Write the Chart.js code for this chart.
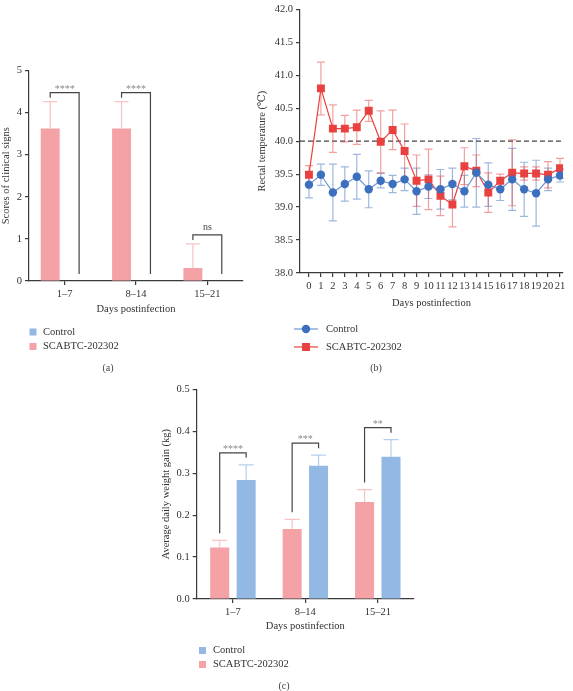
<!DOCTYPE html>
<html>
<head>
<meta charset="utf-8">
<script src="https://cdn.jsdelivr.net/npm/chart.js@4"></script>
<style>
    body { margin: 0; background: #fff; width: 573px; height: 691px; position: relative; overflow: hidden; }
    canvas { position: absolute; }
</style>
</head>
<body>
<canvas id="chartA" width="250" height="385" style="left:0;top:0"></canvas>
<canvas id="chartB" width="368" height="385" style="left:205px;top:0"></canvas>
<canvas id="chartC" width="300" height="311" style="left:150px;top:380px"></canvas>
<script>
// shared
const periods = ['1–7', '8–14', '15–21'];

// (a) scores of clinical signs
const scoreControl = [0, 0, 0];
const scoreControlSd = [0, 0, 0];
const scoreInfected = [3.62, 3.62, 0.31];
const scoreInfectedSd = [0.64, 0.64, 0.57];
const scoreMarks = ['****', '****', 'ns'];

// (b) rectal temperature
const days = [0, 1, 2, 3, 4, 5, 6, 7, 8, 9, 10, 11, 12, 13, 14, 15, 16, 17, 18, 19, 20, 21];
const tempControl = [39.34, 39.49, 39.22, 39.35, 39.46, 39.27, 39.40, 39.35, 39.42, 39.24, 39.31,
    39.27, 39.35, 39.24, 39.52, 39.34, 39.27, 39.42, 39.27, 39.21, 39.42, 39.48];
const tempControlSd = [0.20, 0.16, 0.43, 0.26, 0.34, 0.28, 0.11, 0.13, 0.17, 0.35, 0.18,
    0.30, 0.24, 0.24, 0.52, 0.33, 0.17, 0.47, 0.41, 0.50, 0.17, 0.10];
const tempInfected = [39.49, 40.80, 40.19, 40.19, 40.21, 40.46, 39.99, 40.17, 39.85, 39.40, 39.42,
    39.17, 39.04, 39.62, 39.55, 39.22, 39.40, 39.52, 39.51, 39.51, 39.49, 39.59];
const tempInfectedSd = [0.14, 0.40, 0.36, 0.20, 0.26, 0.16, 0.47, 0.30, 0.41, 0.39, 0.46,
    0.30, 0.34, 0.28, 0.24, 0.30, 0.10, 0.50, 0.10, 0.10, 0.20, 0.15];
const feverLine = 40.0;

// (c) average daily weight gain
const gainControl = [0.284, 0.318, 0.339];
const gainControlSd = [0.036, 0.025, 0.041];
const gainInfected = [0.123, 0.167, 0.231];
const gainInfectedSd = [0.017, 0.023, 0.030];
const gainMarks = ['****', '***', '**'];

const pinkFill = '#f4a2a5';
const pinkErr = '#f8c3c5';
const blueFill = '#93b8e3';
const blueErr = '#b6cfee';
const redLine = '#e8413f';
const redErr = 'rgba(232,65,63,0.5)';
const blueDot = '#3d6fbf';
const blueLine = '#6d96d6';
const blueErrLine = 'rgba(61,111,191,0.5)';
const axisColor = '#3a3a3a';
const textColor = '#333';
const serif = "'Liberation Serif', 'DejaVu Serif', serif";

Chart.defaults.font.family = serif;
Chart.defaults.font.size = 10.5;
Chart.defaults.color = textColor;

const extras = {
    id: 'extras',
    beforeDatasetsDraw(chart, args, opts) {
        const ctx = chart.ctx;
        const y = chart.scales.y;
        const area = chart.chartArea;
        if (opts.refLine !== undefined) {
            const yy = y.getPixelForValue(opts.refLine);
            ctx.save();
            ctx.strokeStyle = '#444';
            ctx.lineWidth = 1.2;
            ctx.setLineDash([5, 3]);
            ctx.beginPath();
            ctx.moveTo(area.left, yy);
            ctx.lineTo(area.right, yy);
            ctx.stroke();
            ctx.restore();
        }
        // error bars
        chart.data.datasets.forEach((ds, i) => {
            if (!ds.sd) return;
            const meta = chart.getDatasetMeta(i);
            ctx.save();
            ctx.strokeStyle = ds.errColor;
            ctx.lineWidth = 1.2;
            meta.data.forEach((el, j) => {
                const raw = ds.data[j];
                const val = typeof raw === 'object' ? raw.y : raw;
                const sd = ds.sd[j];
                if (!sd) return;
                const cap = opts.cap;
                const top = y.getPixelForValue(val + sd);
                const bottom = y.getPixelForValue(opts.bothWays ? val - sd : val);
                ctx.beginPath();
                ctx.moveTo(el.x, bottom);
                ctx.lineTo(el.x, top);
                ctx.moveTo(el.x - cap, top);
                ctx.lineTo(el.x + cap, top);
                if (opts.bothWays) {
                    ctx.moveTo(el.x - cap, bottom);
                    ctx.lineTo(el.x + cap, bottom);
                }
                ctx.stroke();
            });
            ctx.restore();
        });
    },
    afterDraw(chart, args, opts) {
        const ctx = chart.ctx;
        const y = chart.scales.y;
        ctx.save();
        if (opts.brackets) {
            const b = opts.brackets;
            const dsL = chart.data.datasets[0];
            const dsR = chart.data.datasets[1];
            const metaL = chart.getDatasetMeta(0);
            const metaR = chart.getDatasetMeta(1);
            b.marks.forEach((txt, j) => {
                const xL = metaL.data[j].x;
                const xR = metaR.data[j].x;
                const topL = y.getPixelForValue(dsL.data[j] + dsL.sd[j]);
                const topR = y.getPixelForValue(dsR.data[j] + dsR.sd[j]);
                const high = Math.min(topL, topR);
                const yB = high - b.rise;
                const legEnd = t => t === high ? yB + 5 : t - 7;
                ctx.strokeStyle = '#444';
                ctx.lineWidth = 1.2;
                ctx.beginPath();
                ctx.moveTo(xL, legEnd(topL));
                ctx.lineTo(xL, yB);
                ctx.lineTo(xR, yB);
                ctx.lineTo(xR, legEnd(topR));
                ctx.stroke();
                const stars = txt.startsWith('*');
                ctx.fillStyle = stars ? '#888' : '#444';
                ctx.font = `10px ${serif}`;
                ctx.textAlign = 'center';
                ctx.textBaseline = 'alphabetic';
                ctx.fillText(txt, (xL + xR) / 2, yB - (stars ? 1 : 4.5));
            });
        }
        if (opts.legend) {
            const lg = opts.legend;
            ctx.font = `10.5px ${serif}`;
            ctx.textBaseline = 'middle';
            ctx.textAlign = 'left';
            lg.items.forEach((item, k) => {
                const yy = lg.y + k * lg.rowGap;
                if (item.kind === 'box') {
                    ctx.fillStyle = item.color;
                    ctx.fillRect(lg.x, yy - 3.5, 7, 7);
                } else {
                    ctx.strokeStyle = item.line;
                    ctx.lineWidth = 1.2;
                    ctx.beginPath();
                    ctx.moveTo(lg.x, yy);
                    ctx.lineTo(lg.x + 24, yy);
                    ctx.stroke();
                    ctx.fillStyle = item.color;
                    ctx.beginPath();
                    if (item.kind === 'circle') {
                        ctx.arc(lg.x + 12, yy, 4.2, 0, Math.PI * 2);
                    } else {
                        ctx.rect(lg.x + 8, yy - 4, 8, 8);
                    }
                    ctx.fill();
                }
                ctx.fillStyle = textColor;
                ctx.fillText(item.label, lg.textX, yy);
            });
        }
        if (opts.panel) {
            ctx.font = `10px ${serif}`;
            ctx.fillStyle = '#444';
            ctx.textAlign = 'center';
            ctx.textBaseline = 'middle';
            ctx.fillText(opts.panel.text, opts.panel.x, opts.panel.y);
        }
        ctx.restore();
    }
};

function xAxis(height, title) {
    return {
        offset: true,
        grid: { drawOnChartArea: false, tickLength: 4, color: axisColor, offset: false, lineWidth: 1.2 },
        border: { color: axisColor, width: 1.2 },
        ticks: { padding: 3, maxRotation: 0, autoSkip: false, color: textColor },
        title: { display: true, text: title, padding: 0, color: textColor },
        afterFit: s => { s.height = height; }
    };
}

function yAxis(width, title, titlePad, min, max, step) {
    return {
        min, max,
        grid: { drawOnChartArea: false, tickLength: 4, color: axisColor, lineWidth: 1.2 },
        border: { color: axisColor, width: 1.2 },
        ticks: {
            stepSize: step, padding: 3, color: textColor,
            callback: v => step < 1 ? v.toFixed(1) : v
        },
        title: { display: true, text: title, padding: { top: titlePad, bottom: 0 }, color: textColor },
        afterFit: s => { s.width = width; }
    };
}

new Chart(document.getElementById('chartA'), {
    type: 'bar',
    data: {
        labels: periods,
        datasets: [
            { label: 'SCABTC-202302', data: scoreInfected, sd: scoreInfectedSd, backgroundColor: pinkFill, errColor: pinkErr },
            { label: 'Control', data: scoreControl, sd: scoreControlSd, backgroundColor: blueFill, errColor: blueErr }
        ]
    },
    options: {
        responsive: false,
        animation: false,
        categoryPercentage: 0.81,
        barPercentage: 0.655,
        layout: { padding: { top: 70.5, right: 7, bottom: 69.7, left: 0 } },
        plugins: {
            legend: { display: false },
            tooltip: { enabled: false },
            extras: {
                cap: 7,
                brackets: { marks: scoreMarks, rise: 9 },
                legend: {
                    x: 29.5, textX: 43, y: 332, rowGap: 14.5,
                    items: [
                        { kind: 'box', color: blueFill, label: 'Control' },
                        { kind: 'box', color: pinkFill, label: 'SCABTC-202302' }
                    ]
                },
                panel: { text: '(a)', x: 108, y: 368 }
            }
        },
        scales: {
            x: xAxis(34.3, 'Days postinfection'),
            y: yAxis(29, 'Scores of clinical signs', 0, 0, 5, 1)
        }
    },
    plugins: [extras]
});

new Chart(document.getElementById('chartB'), {
    type: 'line',
    data: {
        datasets: [
            {
                label: 'Control',
                data: days.map((d, i) => ({ x: d, y: tempControl[i] })),
                sd: tempControlSd, errColor: blueErrLine,
                borderColor: blueLine, borderWidth: 1.2,
                pointStyle: 'circle', pointRadius: 4.2,
                pointBackgroundColor: blueDot, pointBorderColor: blueDot, pointBorderWidth: 0
            },
            {
                label: 'SCABTC-202302',
                data: days.map((d, i) => ({ x: d, y: tempInfected[i] })),
                sd: tempInfectedSd, errColor: redErr,
                borderColor: redLine, borderWidth: 1.2,
                pointStyle: 'rect', pointRadius: 5.6,
                pointBackgroundColor: redLine, pointBorderColor: redLine, pointBorderWidth: 0
            }
        ]
    },
    options: {
        responsive: false,
        animation: false,
        layout: { padding: { top: 4, right: 10, bottom: 75.7, left: 0 } },
        plugins: {
            legend: { display: false },
            tooltip: { enabled: false },
            extras: {
                cap: 4,
                bothWays: true,
                refLine: feverLine,
                legend: {
                    x: 89, textX: 121, y: 329, rowGap: 18,
                    items: [
                        { kind: 'circle', color: blueDot, line: blueLine, label: 'Control' },
                        { kind: 'rect', color: redLine, line: redLine, label: 'SCABTC-202302' }
                    ]
                },
                panel: { text: '(b)', x: 171, y: 368 }
            }
        },
        scales: {
            x: {
                type: 'linear',
                min: -0.75,
                max: 21.25,
                afterBuildTicks: s => { s.ticks = days.map(d => ({ value: d })); },
                grid: { drawOnChartArea: false, tickLength: 4, color: axisColor, lineWidth: 1.2 },
                border: { color: axisColor, width: 1.2 },
                ticks: { padding: 3, maxRotation: 0, autoSkip: false, color: textColor },
                title: { display: true, text: 'Days postinfection', padding: 0, color: textColor },
                afterFit: s => { s.height = 36.3; }
            },
            y: yAxis(95, 'Rectal temperature (℃)', 50.7, 38, 42, 0.5)
        }
    },
    plugins: [extras]
});

new Chart(document.getElementById('chartC'), {
    type: 'bar',
    data: {
        labels: periods,
        datasets: [
            { label: 'SCABTC-202302', data: gainInfected, sd: gainInfectedSd, backgroundColor: pinkFill, errColor: pinkErr },
            { label: 'Control', data: gainControl, sd: gainControlSd, backgroundColor: blueFill, errColor: blueErr }
        ]
    },
    options: {
        responsive: false,
        animation: false,
        categoryPercentage: 0.73,
        barPercentage: 0.72,
        layout: { padding: { top: 8, right: 36, bottom: 58.7, left: 0 } },
        plugins: {
            legend: { display: false },
            tooltip: { enabled: false },
            extras: {
                cap: 7.5,
                brackets: { marks: gainMarks, rise: 12 },
                legend: {
                    x: 49, textX: 63, y: 270.5, rowGap: 14,
                    items: [
                        { kind: 'box', color: blueFill, label: 'Control' },
                        { kind: 'box', color: pinkFill, label: 'SCABTC-202302' }
                    ]
                },
                panel: { text: '(c)', x: 134, y: 306 }
            }
        },
        scales: {
            x: xAxis(33.3, 'Days postinfection'),
            y: yAxis(46.7, 'Average daily weight gain (kg)', 10.4, 0, 0.5, 0.1)
        }
    },
    plugins: [extras]
});
</script>
</body>
</html>
